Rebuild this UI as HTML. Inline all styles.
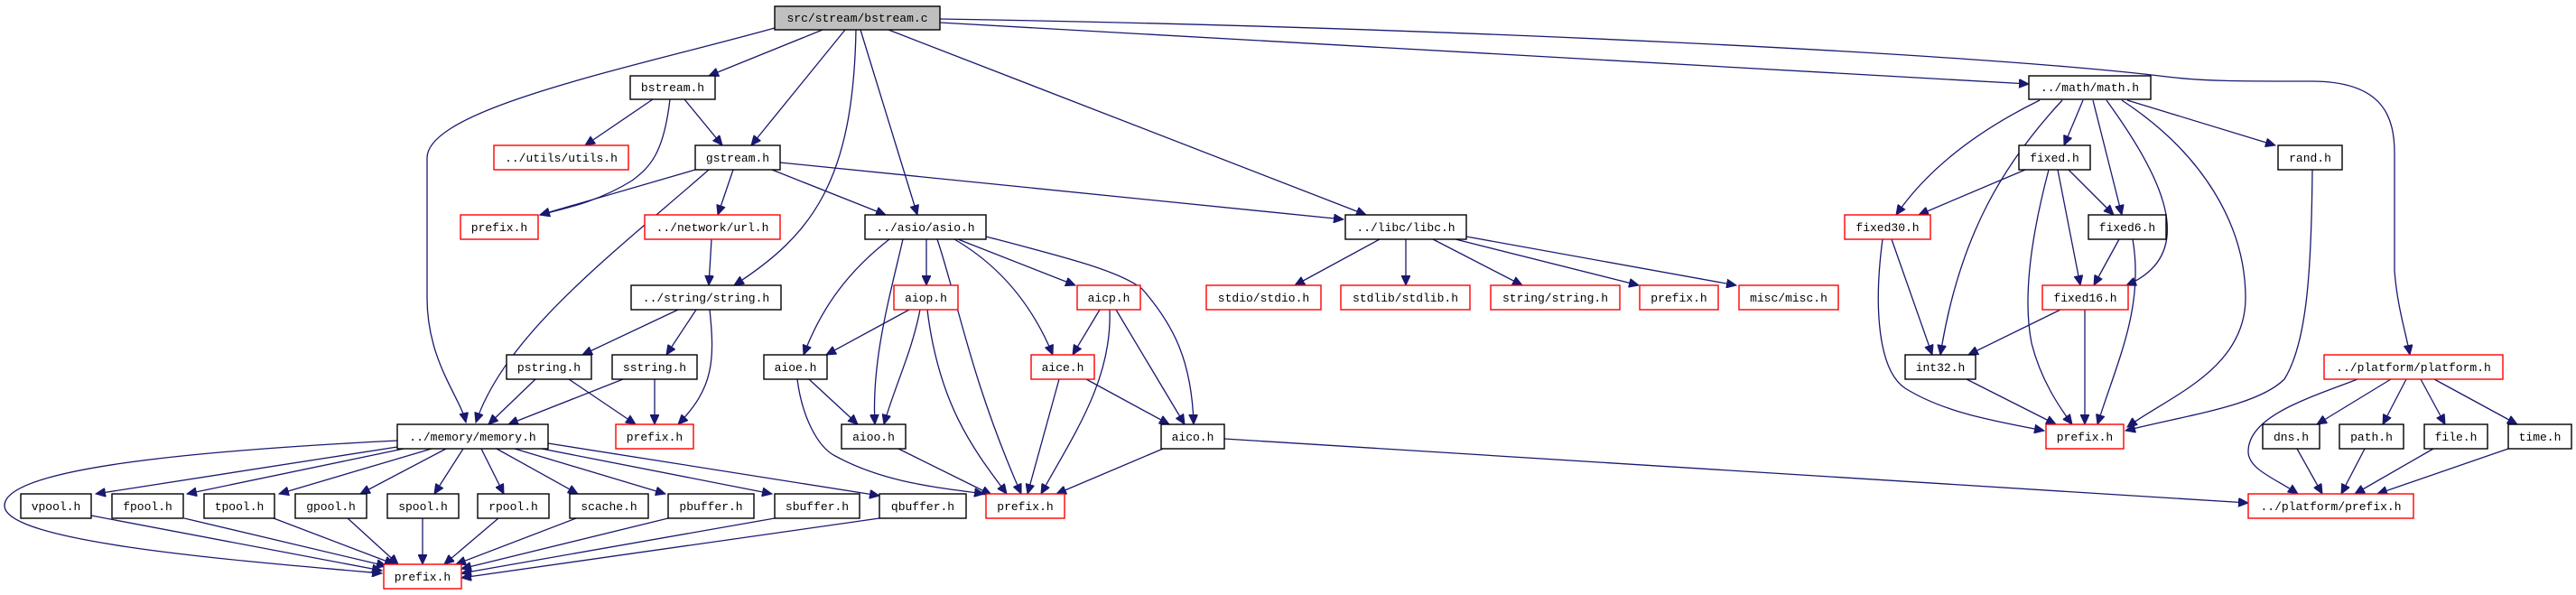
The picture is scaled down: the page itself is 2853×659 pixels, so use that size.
<!DOCTYPE html>
<html><head><meta charset="utf-8"><style>
html,body{margin:0;padding:0;background:#fff;}
svg{display:block;}
text{font-family:"Liberation Mono",monospace;font-size:13px;fill:#000;text-anchor:middle;}
.e{fill:none;stroke:#191970;stroke-width:1.3;marker-end:url(#a);}
.n{fill:#fff;stroke:#000;stroke-width:1.4;}
.r{fill:#fff;stroke:#f00;stroke-width:1.4;}
</style></head><body>
<svg width="2853" height="659" viewBox="0 0 2853 659" xmlns="http://www.w3.org/2000/svg">
<defs><marker id="a" markerUnits="userSpaceOnUse" markerWidth="12" markerHeight="10" refX="11" refY="5" orient="auto"><path d="M0,0 L11,5 L0,10 Z" fill="#191970" stroke="#191970"/></marker></defs>
<g>
<path class="e" d="M858,31 C700,75 473,120 473,175 L473,330 C473,400 510,440 516,468"/>
<path class="e" d="M911,33 L785,84"/>
<path class="e" d="M936,33 L832,161"/>
<path class="e" d="M948,33 C945,200 900,260 813,316"/>
<path class="e" d="M953,33 L1016,238"/>
<path class="e" d="M984,33 L1513,238"/>
<path class="e" d="M1041,25 L2247,93"/>
<path class="e" d="M1041,21 C1600,30 2200,60 2400,85 C2440,90 2480,90 2560,90 C2640,90 2652,130 2652,170 L2652,300 C2655,340 2665,370 2669,393"/>
<path class="e" d="M723,110 L648,161"/>
<path class="e" d="M758,110 L800,161"/>
<path class="e" d="M742,110 C735,170 720,185 700,200 C660,225 620,232 598,238"/>
<path class="e" d="M770,188 L598,238"/>
<path class="e" d="M785,188 C680,280 560,370 527,468"/>
<path class="e" d="M812,188 L795,238"/>
<path class="e" d="M855,188 L981,238"/>
<path class="e" d="M864,180 L1488,243"/>
<path class="e" d="M788,265 L785,316"/>
<path class="e" d="M751,343 L645,393"/>
<path class="e" d="M771,343 L738,393"/>
<path class="e" d="M786,343 C792,400 790,430 751,470"/>
<path class="e" d="M593,420 L541,470"/>
<path class="e" d="M630,420 L704,470"/>
<path class="e" d="M690,420 L563,470"/>
<path class="e" d="M725,420 L725,470"/>
<path class="e" d="M440,488 C200,500 5,520 5,560 C5,600 250,620 423,635"/>
<path class="e" d="M440,495 L106,547"/>
<path class="e" d="M447,497 L207,547"/>
<path class="e" d="M478,497 L309,547"/>
<path class="e" d="M494,497 L399,547"/>
<path class="e" d="M513,497 L481,547"/>
<path class="e" d="M533,497 L558,547"/>
<path class="e" d="M550,497 L640,547"/>
<path class="e" d="M570,497 L737,547"/>
<path class="e" d="M600,497 L855,547"/>
<path class="e" d="M607,491 L974,549"/>
<path class="e" d="M101,571 L423,632"/>
<path class="e" d="M204,574 L428,627"/>
<path class="e" d="M303,574 L437,625"/>
<path class="e" d="M385,574 L441,625"/>
<path class="e" d="M468,574 L468,625"/>
<path class="e" d="M552,574 L492,625"/>
<path class="e" d="M638,574 L505,625"/>
<path class="e" d="M740,574 L511,630"/>
<path class="e" d="M858,574 L511,635"/>
<path class="e" d="M974,574 L511,640"/>
<path class="e" d="M985,265 C940,300 910,340 890,393"/>
<path class="e" d="M1000,265 C985,330 965,400 969,470"/>
<path class="e" d="M1026,265 L1026,316"/>
<path class="e" d="M1038,265 C1060,330 1075,420 1131,547"/>
<path class="e" d="M1057,265 C1100,290 1140,330 1166,393"/>
<path class="e" d="M1061,265 L1191,316"/>
<path class="e" d="M1092,262 C1180,285 1240,300 1265,320 C1300,360 1320,400 1322,470"/>
<path class="e" d="M1007,343 L915,393"/>
<path class="e" d="M1019,343 C1010,390 990,430 979,470"/>
<path class="e" d="M1027,343 C1040,450 1080,500 1115,547"/>
<path class="e" d="M1218,343 L1188,393"/>
<path class="e" d="M1229,343 C1232,420 1190,480 1153,547"/>
<path class="e" d="M1236,343 L1312,470"/>
<path class="e" d="M1203,420 L1295,470"/>
<path class="e" d="M1173,420 L1138,547"/>
<path class="e" d="M896,420 L950,470"/>
<path class="e" d="M883,420 C888,460 905,495 925,505 C980,535 1040,540 1090,547"/>
<path class="e" d="M995,497 L1098,548"/>
<path class="e" d="M1288,497 L1170,547"/>
<path class="e" d="M1356,486 L2490,557"/>
<path class="e" d="M1528,265 L1434,316"/>
<path class="e" d="M1557,265 L1557,316"/>
<path class="e" d="M1587,265 L1686,316"/>
<path class="e" d="M1612,265 L1815,316"/>
<path class="e" d="M1624,262 L1923,316"/>
<path class="e" d="M2259,111 C2200,140 2140,180 2100,238"/>
<path class="e" d="M2284,111 C2220,180 2170,260 2149,393"/>
<path class="e" d="M2307,111 L2286,161"/>
<path class="e" d="M2318,111 L2350,238"/>
<path class="e" d="M2333,111 C2390,190 2440,280 2355,316"/>
<path class="e" d="M2350,111 C2440,170 2487,250 2487,330 C2487,410 2400,440 2356,473"/>
<path class="e" d="M2356,111 L2520,161"/>
<path class="e" d="M2243,188 L2125,238"/>
<path class="e" d="M2279,188 L2304,316"/>
<path class="e" d="M2291,188 L2341,238"/>
<path class="e" d="M2269,188 C2250,260 2240,330 2250,380 C2260,420 2280,450 2295,470"/>
<path class="e" d="M2347,265 L2319,316"/>
<path class="e" d="M2362,265 C2375,340 2345,400 2323,470"/>
<path class="e" d="M2282,343 L2180,393"/>
<path class="e" d="M2309,343 L2309,470"/>
<path class="e" d="M2095,265 L2140,393"/>
<path class="e" d="M2085,265 C2075,340 2080,410 2110,430 C2150,455 2200,465 2264,477"/>
<path class="e" d="M2178,420 L2277,470"/>
<path class="e" d="M2561,188 C2560,300 2555,380 2530,420 C2500,450 2420,460 2354,477"/>
<path class="e" d="M2611,420 C2560,440 2490,460 2490,500 C2490,520 2520,530 2545,547"/>
<path class="e" d="M2648,420 L2566,470"/>
<path class="e" d="M2665,420 L2639,470"/>
<path class="e" d="M2681,420 L2708,470"/>
<path class="e" d="M2696,420 L2788,470"/>
<path class="e" d="M2544,497 L2572,547"/>
<path class="e" d="M2619,497 L2593,547"/>
<path class="e" d="M2695,497 L2608,547"/>
<path class="e" d="M2778,497 L2633,547"/>
</g>
<g>
<rect x="858" y="7" width="183" height="26" fill="#bfbfbf" stroke="#000" stroke-width="1.4"/><text x="949.5" y="24">src/stream/bstream.c</text>
<rect class="n" x="698" y="84" width="94" height="26"/><text x="745" y="101">bstream.h</text>
<rect class="r" x="547" y="161" width="149" height="27"/><text x="621.5" y="179">../utils/utils.h</text>
<rect class="n" x="770" y="161" width="94" height="27"/><text x="817" y="179">gstream.h</text>
<rect class="r" x="510" y="238" width="86" height="27"/><text x="553" y="256">prefix.h</text>
<rect class="r" x="714" y="238" width="150" height="27"/><text x="789" y="256">../network/url.h</text>
<rect class="n" x="958" y="238" width="134" height="27"/><text x="1025" y="256">../asio/asio.h</text>
<rect class="n" x="1490" y="238" width="134" height="27"/><text x="1557" y="256">../libc/libc.h</text>
<rect class="n" x="699" y="316" width="166" height="27"/><text x="782" y="334">../string/string.h</text>
<rect class="r" x="990" y="316" width="71" height="27"/><text x="1025.5" y="334">aiop.h</text>
<rect class="r" x="1193" y="316" width="70" height="27"/><text x="1228" y="334">aicp.h</text>
<rect class="r" x="1336" y="316" width="127" height="27"/><text x="1399.5" y="334">stdio/stdio.h</text>
<rect class="r" x="1485" y="316" width="143" height="27"/><text x="1556.5" y="334">stdlib/stdlib.h</text>
<rect class="r" x="1651" y="316" width="143" height="27"/><text x="1722.5" y="334">string/string.h</text>
<rect class="r" x="1816" y="316" width="87" height="27"/><text x="1859.5" y="334">prefix.h</text>
<rect class="r" x="1926" y="316" width="110" height="27"/><text x="1981" y="334">misc/misc.h</text>
<rect class="n" x="561" y="393" width="94" height="27"/><text x="608" y="411">pstring.h</text>
<rect class="n" x="678" y="393" width="94" height="27"/><text x="725" y="411">sstring.h</text>
<rect class="n" x="846" y="393" width="70" height="27"/><text x="881" y="411">aioe.h</text>
<rect class="r" x="1142" y="393" width="70" height="27"/><text x="1177" y="411">aice.h</text>
<rect class="n" x="440" y="470" width="167" height="27"/><text x="523.5" y="488">../memory/memory.h</text>
<rect class="r" x="682" y="470" width="86" height="27"/><text x="725" y="488">prefix.h</text>
<rect class="n" x="932" y="470" width="71" height="27"/><text x="967.5" y="488">aioo.h</text>
<rect class="n" x="1286" y="470" width="70" height="27"/><text x="1321" y="488">aico.h</text>
<rect class="n" x="23" y="547" width="78" height="27"/><text x="62" y="565">vpool.h</text>
<rect class="n" x="124" y="547" width="79" height="27"/><text x="163.5" y="565">fpool.h</text>
<rect class="n" x="226" y="547" width="78" height="27"/><text x="265" y="565">tpool.h</text>
<rect class="n" x="327" y="547" width="79" height="27"/><text x="366.5" y="565">gpool.h</text>
<rect class="n" x="429" y="547" width="79" height="27"/><text x="468.5" y="565">spool.h</text>
<rect class="n" x="529" y="547" width="79" height="27"/><text x="568.5" y="565">rpool.h</text>
<rect class="n" x="631" y="547" width="87" height="27"/><text x="674.5" y="565">scache.h</text>
<rect class="n" x="740" y="547" width="95" height="27"/><text x="787.5" y="565">pbuffer.h</text>
<rect class="n" x="858" y="547" width="94" height="27"/><text x="905" y="565">sbuffer.h</text>
<rect class="n" x="974" y="547" width="96" height="27"/><text x="1022" y="565">qbuffer.h</text>
<rect class="r" x="1092" y="547" width="87" height="27"/><text x="1135.5" y="565">prefix.h</text>
<rect class="r" x="2490" y="547" width="183" height="27"/><text x="2581.5" y="565">../platform/prefix.h</text>
<rect class="r" x="425" y="625" width="86" height="27"/><text x="468" y="643">prefix.h</text>
<rect class="n" x="2247" y="84" width="135" height="26"/><text x="2314.5" y="101">../math/math.h</text>
<rect class="n" x="2236" y="161" width="79" height="27"/><text x="2275.5" y="179">fixed.h</text>
<rect class="n" x="2523" y="161" width="71" height="27"/><text x="2558.5" y="179">rand.h</text>
<rect class="r" x="2043" y="238" width="95" height="27"/><text x="2090.5" y="256">fixed30.h</text>
<rect class="n" x="2313" y="238" width="86" height="27"/><text x="2356" y="256">fixed6.h</text>
<rect class="r" x="2262" y="316" width="95" height="27"/><text x="2309.5" y="334">fixed16.h</text>
<rect class="n" x="2110" y="393" width="78" height="27"/><text x="2149" y="411">int32.h</text>
<rect class="r" x="2574" y="393" width="198" height="27"/><text x="2673" y="411">../platform/platform.h</text>
<rect class="r" x="2266" y="470" width="86" height="27"/><text x="2309" y="488">prefix.h</text>
<rect class="n" x="2506" y="470" width="63" height="27"/><text x="2537.5" y="488">dns.h</text>
<rect class="n" x="2591" y="470" width="71" height="27"/><text x="2626.5" y="488">path.h</text>
<rect class="n" x="2685" y="470" width="70" height="27"/><text x="2720" y="488">file.h</text>
<rect class="n" x="2778" y="470" width="70" height="27"/><text x="2813" y="488">time.h</text>
</g>
</svg>
</body></html>
